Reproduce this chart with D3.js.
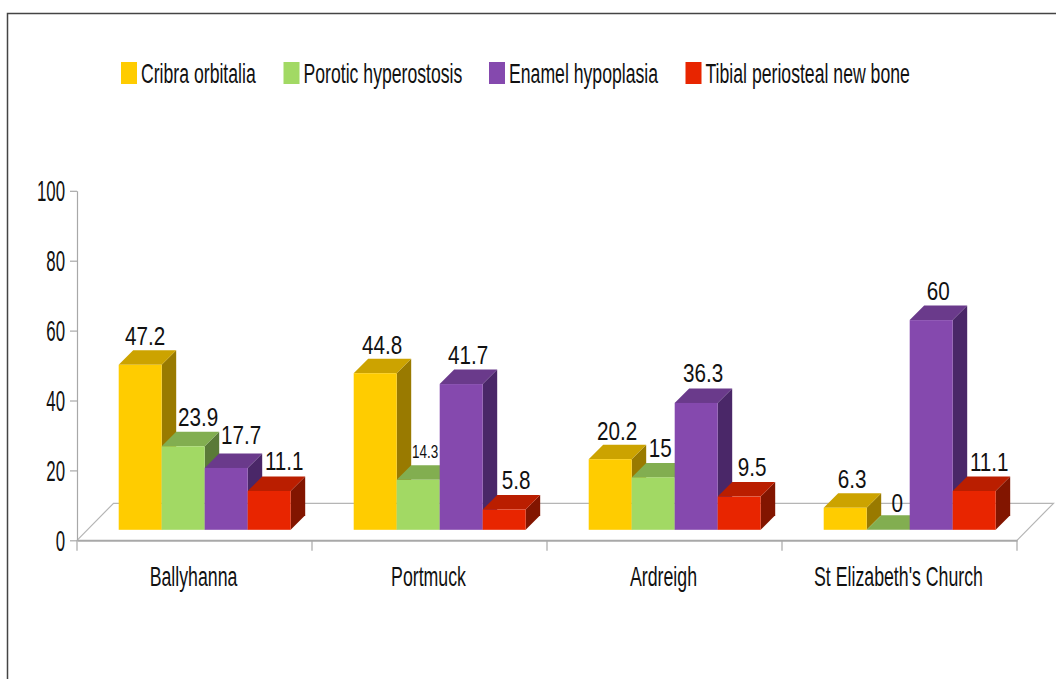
<!DOCTYPE html>
<html>
  <head>
    <meta charset="utf-8">
    <title>Skeletal stress markers</title>
    <script src="https://cdn.jsdelivr.net/npm/d3@7"></script>
    <style type="text/css">
      html, body { margin: 0; padding: 0; background: #fff; overflow: hidden; }
      svg { display: block; }
      text { font-family: "Liberation Sans", Arial, sans-serif; fill: #111; }
    </style>
  </head>
  <body>
    <script>
    //Data
    var categories = ["Ballyhanna", "Portmuck", "Ardreigh", "St Elizabeth's Church"];
    var seriesNames = ["Cribra orbitalia", "Porotic hyperostosis", "Enamel hypoplasia", "Tibial periosteal new bone"];
    var cribra = [47.2, 44.8, 20.2, 6.3];
    var porotic = [23.9, 14.3, 15, 0];
    var enamel = [17.7, 41.7, 36.3, 60];
    var tibial = [11.1, 5.8, 9.5, 11.1];
    var yTicks = [0, 20, 40, 60, 80, 100];

    var seriesValues = [cribra, porotic, enamel, tibial];

    //Front, top and side colour per series
    var frontColors = ["#ffcc00", "#a2d964", "#8549ae", "#e82500"];
    var topColors = ["#cca300", "#82ae50", "#6a3a8b", "#ba1e00"];
    var sideColors = ["#997a00", "#5a7a38", "#4a2768", "#821500"];

    var svgWidth = 1056;
    var svgHeight = 679;

    //Floor of the fake 3D box
    var floorDepth = 36.5;
    var barInset = 10.5;   // bars stand this far back on the floor
    var barDepth = 14.5;
    var groupWidth = 172;

    var xScale = d3.scaleBand().domain(categories).range([77, 1017]);
    var barScale = d3.scaleBand().domain(seriesNames).range([0, groupWidth]);
    var yScale = d3.scaleLinear().domain([0, 100]).range([540.3, 190.8]);

    var svg = d3.select("body")
      .append("svg")
        .attr("width", svgWidth)
        .attr("height", svgHeight);

    //Squeezed Arial look of the original
    function squash(sel, x, y, sx) {
      return sel.attr("transform", "translate(" + x + "," + y + ") scale(" + sx + ",1)");
    }

    //Outer frame, runs off the right and bottom
    svg.append("path")
      .attr("d", "M7.5,679V13.5H1056")
      .attr("fill", "none")
      .attr("stroke", "#444")
      .attr("stroke-width", 1.5);

    //Legend
    var legendX = [121, 283.5, 489, 685.5];
    seriesNames.forEach(function(name, i) {
      svg.append("rect")
        .attr("x", legendX[i])
        .attr("y", 62)
        .attr("width", 16)
        .attr("height", 22)
        .attr("fill", frontColors[i]);
      svg.append("text")
        .text(name)
        .attr("font-size", 27.5)
        .call(squash, legendX[i] + 20, 82.5, 0.642);
    });

    //Floor
    var x0 = xScale.range()[0], x1 = xScale.range()[1], y0 = yScale(0);
    svg.append("path")
      .attr("d", "M" + x0 + "," + y0 + "L" + (x0 + floorDepth) + "," + (y0 - floorDepth - 0.5)
        + "H" + (x1 + floorDepth) + "L" + x1 + "," + y0)
      .attr("fill", "none")
      .attr("stroke", "#b5b5b5")
      .attr("stroke-width", 1.2);

    //Y axis
    var yAxis = d3.axisLeft(yScale).tickValues(yTicks).tickSize(7).tickPadding(5).tickSizeOuter(0);
    var yG = svg.append("g").attr("transform", "translate(" + x0 + ",0)").call(yAxis);
    yG.selectAll("path, line").attr("stroke", "#a8a8a8").attr("stroke-width", 1.2);
    yG.selectAll("text")
      .attr("font-size", 29)
      .attr("x", null)
      .attr("dy", null)
      .attr("text-anchor", "end")
      .call(squash, -12, 10, 0.58);

    //X axis
    var xAxis = d3.axisBottom(xScale).tickSize(0).tickPadding(0);
    var xG = svg.append("g").attr("transform", "translate(0," + y0 + ")").call(xAxis);
    xG.select("path").attr("stroke", "#a8a8a8").attr("stroke-width", 2);
    xG.selectAll("text")
      .attr("font-size", 27.5)
      .attr("y", null)
      .attr("dy", null)
      .attr("text-anchor", "middle")
      .call(squash, -1, 46, 0.645);
    //Ticks sit between the categories, not on them
    var edges = categories.map(function(c) { return xScale(c); }).concat([x1]);
    svg.selectAll(".edge")
      .data(edges)
      .enter()
      .append("line")
      .attr("class", "edge")
      .attr("x1", function(d) { return d; })
      .attr("x2", function(d) { return d; })
      .attr("y1", y0)
      .attr("y2", y0 + 10.5)
      .attr("stroke", "#a8a8a8")
      .attr("stroke-width", 1.2);

    //Bars, left to right so that each one covers the side of the previous one
    var groupOffset = (xScale.bandwidth() - groupWidth) / 2 + barInset - 0.3;
    var barBase = y0 - barInset;
    var w = barScale.bandwidth();

    categories.forEach(function(cat, c) {
      seriesNames.forEach(function(name, s) {
        var v = seriesValues[s][c];
        var left = xScale(cat) + groupOffset + barScale(name);
        var top = yScale(v) - barInset;
        var d = barDepth;
        var g = svg.append("g");
        g.append("path")
          .attr("d", "M" + (left + w) + "," + top + "l" + d + "," + (-d) + "V" + (barBase - d) + "L" + (left + w) + "," + barBase + "Z")
          .attr("fill", sideColors[s]);
        g.append("path")
          .attr("d", "M" + left + "," + top + "l" + d + "," + (-d) + "h" + w + "l" + (-d) + "," + d + "Z")
          .attr("fill", topColors[s]);
        if (v > 0) {
          g.append("rect")
            .attr("x", left)
            .attr("y", top)
            .attr("width", w)
            .attr("height", barBase - top)
            .attr("fill", frontColors[s]);
        }
      });
    });

    //Value labels go last, on top of the bars
    var labelNudgeX = [
      [-2, 8, 8, 8],
      [0, 0, 0, 5],
      [0, 0, 0, 6],
      [0, 2, 0, 8]
    ];
    var labelGapY = [
      [5, 6, 9, 7],
      [5, 7, 6, 6],
      [5, 6, 6, 6],
      [5, 3.5, 6, 6]
    ];
    categories.forEach(function(cat, c) {
      seriesNames.forEach(function(name, s) {
        var v = seriesValues[s][c];
        var small = v === 14.3;
        var cx = xScale(cat) + groupOffset + barScale(name) + w / 2 + 7 + labelNudgeX[c][s];
        var by = yScale(v) - barInset - barDepth - labelGapY[c][s];
        svg.append("text")
          .text(v)
          .attr("text-anchor", "middle")
          .attr("font-size", small ? 18 : 25.5)
          .call(squash, cx, by, small ? 0.75 : 0.81);
      });
    });
    </script>
  </body>
</html>
